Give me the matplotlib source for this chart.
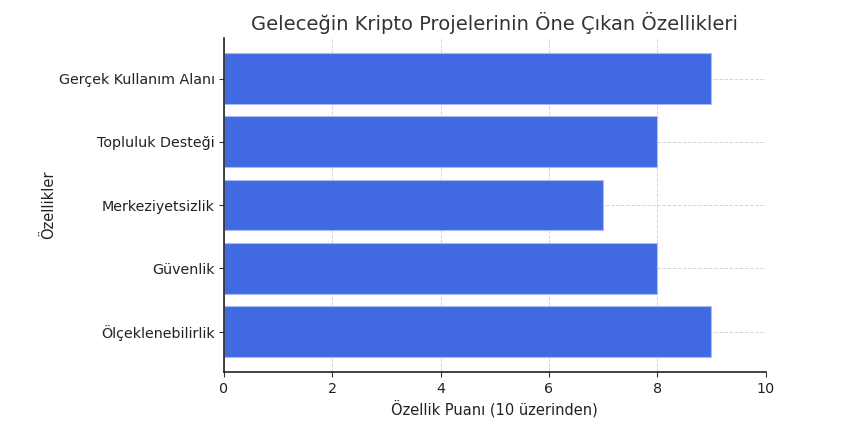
import matplotlib
matplotlib.use("Agg")
import matplotlib.pyplot as plt

features = ["Ölçeklenebilirlik", "Güvenlik", "Merkeziyetsizlik", "Topluluk Desteği", "Gerçek Kullanım Alanı"]
scores = [9, 8, 7, 8, 9]
xticks = [0, 2, 4, 6, 8, 10]

plt.rcParams['font.family'] = ['DejaVu Sans']
fig = plt.figure(figsize=(8.53, 4.42), dpi=100)
ax = fig.add_axes([0.2626, 0.158, 0.635, 0.756])

ax.barh(features, scores, color="#4169E1", edgecolor="#a9bdf0", linewidth=0.8, height=0.8, zorder=2)
ax.set_xlim(0, 10)
ax.set_xticks(xticks)
ax.grid(True, linestyle="--", color="#cccccc", linewidth=0.7, alpha=0.8, zorder=3)
for s in ["top", "right"]:
    ax.spines[s].set_visible(False)
for s in ["left", "bottom"]:
    ax.spines[s].set_color("#222222")
    ax.spines[s].set_linewidth(1.2)
    ax.spines[s].set_zorder(5)
ax.tick_params(colors="#333333", labelsize=10.3, labelcolor="#222222")
ax.tick_params(axis="y", pad=3)
ax.set_title("Geleceğin Kripto Projelerinin Öne Çıkan Özellikleri", fontsize=14, color="#333333")
ax.set_xlabel("Özellik Puanı (10 üzerinden)", fontsize=10.5, color="#222222", labelpad=3)
ax.set_ylabel("Özellikler", fontsize=10.5, color="#222222", labelpad=2)

fig.savefig("out.png", dpi=100)
